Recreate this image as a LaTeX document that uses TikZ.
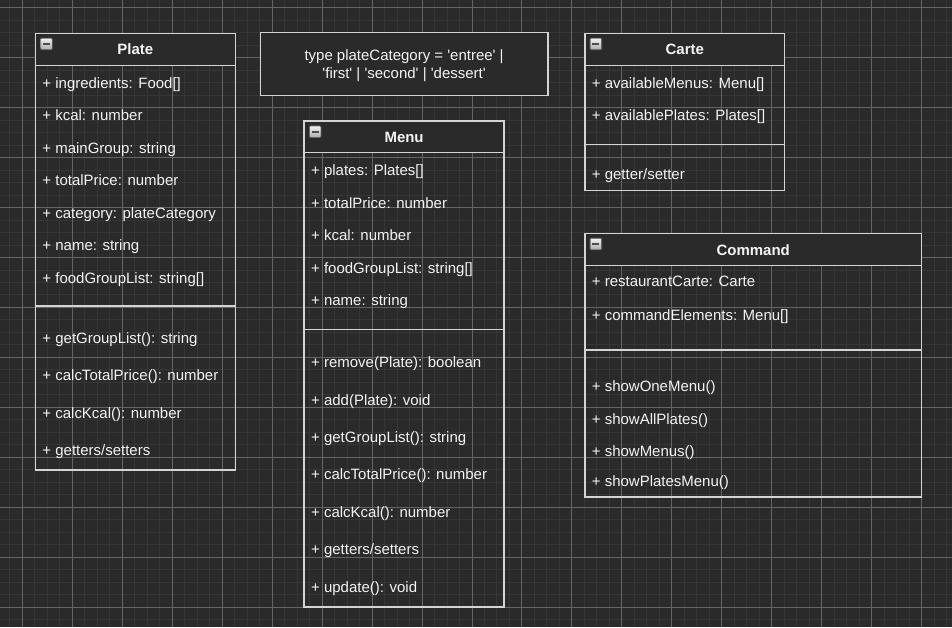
\documentclass[tikz,border=0pt]{standalone}
\usepackage{fontspec}
\setmainfont{Liberation Sans}
\definecolor{bg}{HTML}{2A2A2A}
\definecolor{gridminor}{HTML}{363636}
\definecolor{gridmajor}{HTML}{646464}
\definecolor{boxline}{HTML}{D4D4D4}
\definecolor{ink}{HTML}{F4F4F4}
\newcommand{\sq}{\textquotesingle}
\begin{document}
\begin{tikzpicture}[x=1pt,y=-1pt,
  every node/.style={inner sep=0pt,outer sep=0pt},
  frame/.style={draw=boxline, line width=1.4pt, rectangle, anchor=north west},
  classhead/.style={frame, fill=bg},
  classpart/.style={frame},
  title/.style={anchor=base, text=ink, font=\fontsize{15}{17}\selectfont\bfseries},
  member/.style={anchor=base west, text=ink, font=\fontsize{15}{17.7}\selectfont},
  collapse/.style={rectangle, rounded corners=1pt, minimum size=11.5pt, draw=gray!80!black,
    line width=0.8pt, top color=white!90!gray, bottom color=gray!65,
    path picture={\draw[line width=2pt, black!70] ([xshift=-3.4pt]path picture bounding box.center)
      -- ([xshift=3.4pt]path picture bounding box.center);}},
]
% canvas and grid
\fill[bg] (0,0) rectangle (952,627);
\foreach \i in {0,...,75} \draw[gridminor, line width=1pt] ({9.5+12.5*\i},0) -- ({9.5+12.5*\i},627);
\foreach \i in {0,...,49} \draw[gridminor, line width=1pt] (0,{7.3+12.5*\i}) -- (952,{7.3+12.5*\i});
\foreach \i in {0,...,18} \draw[gridmajor, line width=1pt] ({22+50*\i},0) -- ({22+50*\i},627);
\foreach \i in {0,...,12} \draw[gridmajor, line width=1pt] (0,{7.3+50*\i}) -- (952,{7.3+50*\i});
\useasboundingbox (0,0) rectangle (952,627);

% ---------- Plate ----------
\node[classpart, minimum width=200pt, minimum height=241pt] (plateAttr) at (35,65) {};
\node[classpart, minimum width=200pt, minimum height=164pt] (plateOps) at (35,306) {};
\node[classhead, minimum width=200pt, minimum height=32pt] (plateHead) at (35,33) {};
\node[title] (plateTitle) at (135,54.3) {Plate};
\node[collapse] (plateIcon) at (46,43.5) {};
\node[member] (p1) at (42,88) {+ ingredients: Food[]};
\node[member] (p2) at (42,120.5) {+ kcal: number};
\node[member] (p3) at (42,153) {+ mainGroup: string};
\node[member] (p4) at (42,185.5) {+ totalPrice: number};
\node[member] (p5) at (42,218) {+ category: plateCategory};
\node[member] (p6) at (42,250.5) {+ name: string};
\node[member] (p7) at (42,283) {+ foodGroupList: string[]};
\node[member] (pm1) at (42,343) {+ getGroupList(): string};
\node[member] (pm2) at (42,380.5) {+ calcTotalPrice(): number};
\node[member] (pm3) at (42,418) {+ calcKcal(): number};
\node[member] (pm4) at (42,455.5) {+ getters/setters};

% ---------- plateCategory type ----------
\node[frame, fill=bg, minimum width=288pt, minimum height=63pt] (typeBox) at (260,32.3) {};
\node[member, anchor=base] (t1) at (404,60) {type plateCategory = \sq entree\sq\ |};
\node[member, anchor=base] (t2) at (404,77.7) {\sq first\sq\ | \sq second\sq\ | \sq dessert\sq};

% ---------- Menu ----------
\node[classpart, minimum width=200pt, minimum height=177pt] (menuAttr) at (304,152.3) {};
\node[classpart, minimum width=200pt, minimum height=278pt] (menuOps) at (304,329.3) {};
\node[classhead, minimum width=200pt, minimum height=31.6pt] (menuHead) at (304,120.7) {};
\node[title] (menuTitle) at (404,141.7) {Menu};
\node[collapse] (menuIcon) at (315,131.3) {};
\node[member] (m1) at (311,175.5) {+ plates: Plates[]};
\node[member] (m2) at (311,208) {+ totalPrice: number};
\node[member] (m3) at (311,240.5) {+ kcal: number};
\node[member] (m4) at (311,273) {+ foodGroupList: string[]};
\node[member] (m5) at (311,305.5) {+ name: string};
\node[member] (mm1) at (311,367.5) {+ remove(Plate): boolean};
\node[member] (mm2) at (311,405) {+ add(Plate): void};
\node[member] (mm3) at (311,442.5) {+ getGroupList(): string};
\node[member] (mm4) at (311,480) {+ calcTotalPrice(): number};
\node[member] (mm5) at (311,517.5) {+ calcKcal(): number};
\node[member] (mm6) at (311,555) {+ getters/setters};
\node[member] (mm7) at (311,592.5) {+ update(): void};

% ---------- Carte ----------
\node[classpart, minimum width=200pt, minimum height=79pt] (carteAttr) at (585,65) {};
\node[classpart, minimum width=200pt, minimum height=46pt] (carteOps) at (585,144) {};
\node[classhead, minimum width=200pt, minimum height=32pt] (carteHead) at (585,33) {};
\node[title] (carteTitle) at (685,54.3) {Carte};
\node[collapse] (carteIcon) at (596,43.5) {};
\node[member] (c1) at (592,88) {+ availableMenus: Menu[]};
\node[member] (c2) at (592,120.5) {+ availablePlates: Plates[]};
\node[member] (cm1) at (592,179.5) {+ getter/setter};

% ---------- Command ----------
\node[classpart, minimum width=337pt, minimum height=85pt] (cmdAttr) at (585,265) {};
\node[classpart, minimum width=337pt, minimum height=147pt] (cmdOps) at (585,350) {};
\node[classhead, minimum width=337pt, minimum height=32pt] (cmdHead) at (585,233) {};
\node[title] (cmdTitle) at (753.5,255) {Command};
\node[collapse] (cmdIcon) at (596,243.8) {};
\node[member] (k1) at (592,286.7) {+ restaurantCarte: Carte};
\node[member] (k2) at (592,320) {+ commandElements: Menu[]};
\node[member] (km1) at (592,391.7) {+ showOneMenu()};
\node[member] (km2) at (592,424.3) {+ showAllPlates()};
\node[member] (km3) at (592,456.7) {+ showMenus()};
\node[member] (km4) at (592,486.7) {+ showPlatesMenu()};
\end{tikzpicture}
\end{document}
